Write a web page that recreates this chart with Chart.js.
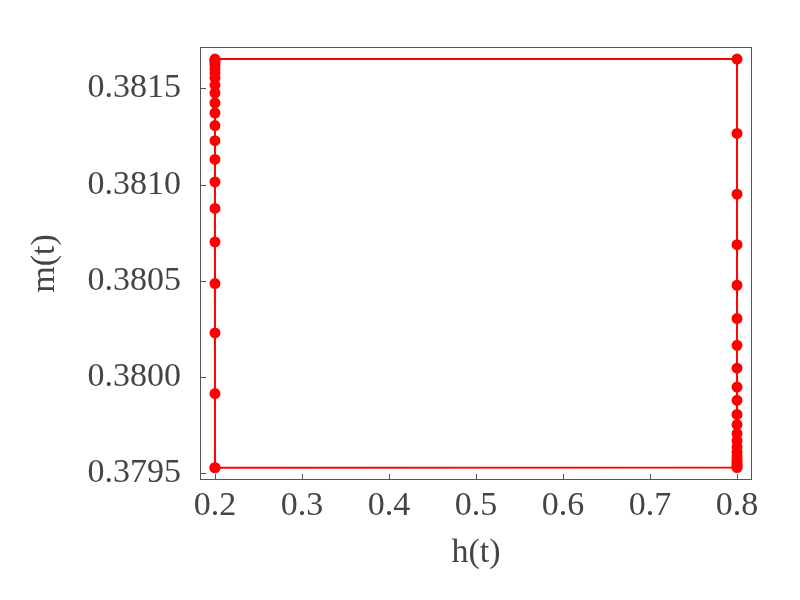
<!DOCTYPE html>
<html>
<head>
<meta charset="utf-8">
<script src="https://cdn.jsdelivr.net/npm/chart.js@4/dist/chart.umd.min.js"></script>
<style>
  html, body { margin: 0; padding: 0; background: #fff; }
</style>
</head>
<body>
<canvas id="loop" width="800" height="600"></canvas>
<script>
// field values of the two branches
const hLow = 0.2;
const hHigh = 0.8;

// m(t) while h = 0.2 (going up, bunching near the top)
const mUp = [
    0.379529, 0.379914, 0.380229, 0.380486, 0.380702, 0.380876, 0.381014,
    0.381131, 0.381228, 0.381307, 0.381372, 0.381424, 0.381476, 0.381517,
    0.381554, 0.381580, 0.381603, 0.381621, 0.381634, 0.381645, 0.381652
];

// m(t) while h = 0.8 (going down, bunching near the bottom)
const mDown = [
    0.381652, 0.381266, 0.380950, 0.380688, 0.380477, 0.380304, 0.380165,
    0.380046, 0.379948, 0.379879, 0.379806, 0.379753, 0.379706, 0.379669,
    0.379637, 0.379611, 0.379590, 0.379573, 0.379559, 0.379547, 0.379538,
    0.379530
];

const xTicks = [0.2, 0.3, 0.4, 0.5, 0.6, 0.7, 0.8];
const yTicks = [0.3795, 0.3800, 0.3805, 0.3810, 0.3815];

const xRange = [0.1828, 0.8172];
const yRange = [0.379465, 0.381715];

// build the closed loop: up the left side, across, down the right side, back
const loopPoints = [];
mUp.forEach(m => loopPoints.push({ x: hLow, y: m }));
mDown.forEach(m => loopPoints.push({ x: hHigh, y: m }));
loopPoints.push({ x: hLow, y: mUp[0] });

const axisColor = '#555';
const textColor = '#444';
const serif = "'Liberation Serif', 'DejaVu Serif', serif";

// frame around the plot and inward tick marks
const framePlugin = {
    id: 'frame',
    afterDraw(chart) {
        const { ctx, chartArea: a, scales } = chart;
        ctx.save();
        ctx.strokeStyle = axisColor;
        ctx.lineWidth = 1;
        ctx.strokeRect(a.left + 0.5, a.top + 0.5, a.right - a.left - 1, a.bottom - a.top - 1);
        ctx.beginPath();
        scales.x.ticks.forEach(t => {
            const px = Math.round(scales.x.getPixelForValue(t.value)) + 0.5;
            ctx.moveTo(px, a.bottom);
            ctx.lineTo(px, a.bottom - 6);
        });
        scales.y.ticks.forEach(t => {
            const py = Math.round(scales.y.getPixelForValue(t.value)) + 0.5;
            ctx.moveTo(a.left, py);
            ctx.lineTo(a.left + 6, py);
        });
        ctx.stroke();
        ctx.restore();
    }
};

new Chart(document.getElementById('loop'), {
    type: 'scatter',
    data: {
        datasets: [{
            label: 'm vs h',
            data: loopPoints,
            showLine: true,
            borderColor: '#ff0000',
            backgroundColor: '#ff0000',
            borderWidth: 2,
            pointRadius: 4.5,
            pointHoverRadius: 4.5,
            tension: 0
        }]
    },
    options: {
        responsive: false,
        animation: false,
        devicePixelRatio: 1,
        layout: { padding: { top: 47, right: 48, left: 0, bottom: 0 } },
        plugins: {
            legend: { display: false },
            tooltip: { enabled: false }
        },
        scales: {
            x: {
                type: 'linear',
                min: xRange[0],
                max: xRange[1],
                afterBuildTicks: axis => { axis.ticks = xTicks.map(v => ({ value: v })); },
                afterFit: axis => { axis.height = 120; },
                grid: { display: false, drawTicks: false },
                border: { display: false },
                ticks: {
                    padding: 6,
                    color: textColor,
                    font: { family: serif, size: 34 },
                    maxRotation: 0,
                    callback: v => v.toFixed(1)
                },
                title: {
                    display: true,
                    text: 'h(t)',
                    color: textColor,
                    font: { family: serif, size: 34 },
                    padding: { top: 0, bottom: 27 }
                }
            },
            y: {
                type: 'linear',
                min: yRange[0],
                max: yRange[1],
                afterBuildTicks: axis => { axis.ticks = yTicks.map(v => ({ value: v })); },
                afterFit: axis => { axis.width = 200; },
                grid: { display: false, drawTicks: false },
                border: { display: false },
                ticks: {
                    padding: 19,
                    color: textColor,
                    font: { family: serif, size: 34 },
                    callback: v => v.toFixed(4)
                },
                title: {
                    display: true,
                    text: 'm(t)',
                    color: textColor,
                    font: { family: serif, size: 34 },
                    padding: { top: 25, bottom: 0 }
                }
            }
        }
    },
    plugins: [framePlugin]
});
</script>
</body>
</html>
